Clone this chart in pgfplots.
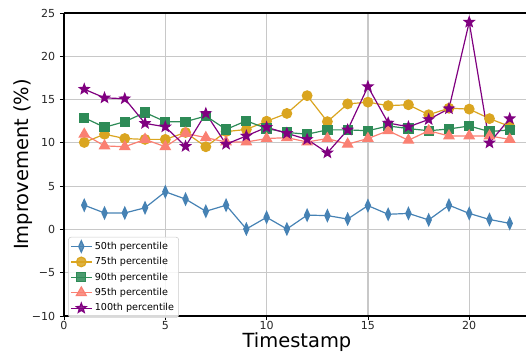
\documentclass[border=0pt]{standalone}
\usepackage{fontspec}
\setmainfont{DejaVu Sans}
\usepackage{pgfplots}
\pgfplotsset{compat=1.18}
\definecolor{cblue}{RGB}{70,130,180}
\definecolor{corange}{RGB}{218,165,32}
\definecolor{cgreen}{RGB}{46,139,87}
\definecolor{csalmon}{RGB}{250,128,114}
\definecolor{cpurple}{RGB}{128,0,128}
\definecolor{gridgray}{RGB}{200,200,200}
\pgfdeclareplotmark{fstar}{%
  \pgfpathmoveto{\pgfpointpolar{90}{\pgfplotmarksize}}%
  \pgfpathlineto{\pgfpointpolar{126}{0.42\pgfplotmarksize}}%
  \pgfpathlineto{\pgfpointpolar{162}{\pgfplotmarksize}}%
  \pgfpathlineto{\pgfpointpolar{198}{0.42\pgfplotmarksize}}%
  \pgfpathlineto{\pgfpointpolar{234}{\pgfplotmarksize}}%
  \pgfpathlineto{\pgfpointpolar{270}{0.42\pgfplotmarksize}}%
  \pgfpathlineto{\pgfpointpolar{306}{\pgfplotmarksize}}%
  \pgfpathlineto{\pgfpointpolar{342}{0.42\pgfplotmarksize}}%
  \pgfpathlineto{\pgfpointpolar{18}{\pgfplotmarksize}}%
  \pgfpathlineto{\pgfpointpolar{54}{0.42\pgfplotmarksize}}%
  \pgfpathclose
  \pgfusepathqfillstroke
}
\begin{document}
\begin{tikzpicture}
\begin{axis}[
  scale only axis,
  width=349.5pt, height=227.25pt,
  xmin=0, xmax=23, ymin=-10, ymax=25,
  xtick={0,5,10,15,20},
  ytick={-10,-5,0,5,10,15,20,25},
  yticklabels={−10,−5,0,5,10,15,20,25},
  axis x line=box, axis y line*=left,
  axis line style={black, line width=0.9pt},
  tick style={black, line width=0.6pt},
  tick align=outside, tick pos=left,
  major tick length=3pt,
  grid=major,
  grid style={gridgray, line width=0.9pt},
  tick label style={font=\fontsize{8.3}{10}\selectfont, text=black!85},
  xticklabel style={inner sep=0.8pt},
  /pgf/number format/assume math mode=true,
  xlabel={Timestamp},
  ylabel={Improvement (\%)},
  every axis x label/.style={at={(axis description cs:0.5,-0.104)}, anchor=base, font=\fontsize{14.6}{16}\selectfont},
  every axis y label/.style={at={(axis description cs:-0.0869,0.5)}, rotate=90, anchor=center, font=\fontsize{14.6}{16}\selectfont},
  legend style={at={(axis description cs:0.009,0.261)}, anchor=north west,
    draw=black!20, rounded corners=2pt, fill=white, fill opacity=0.85, text opacity=1,
    font=\fontsize{7.2}{8.6}\selectfont, inner sep=1.5pt, row sep=0.6pt},
  legend cell align=left,
  legend image code/.code={%
    \draw[mark repeat=2,mark phase=2] plot coordinates {(0cm,0cm) (0.27cm,0cm) (0.54cm,0cm)};},
  every axis plot/.append style={line width=0.9pt},
]
\addplot[cblue, mark=diamond*, mark size=4.3pt, mark options={xscale=0.6}] coordinates {
(1,2.8) (2,1.9) (3,1.9) (4,2.5) (5,4.35) (6,3.5) (7,2.1) (8,2.8) (9,0.05) (10,1.4) (11,0.05)
(12,1.65) (13,1.6) (14,1.2) (15,2.75) (16,1.75) (17,1.85) (18,1.1) (19,2.8) (20,1.85) (21,1.15) (22,0.7)};
\addlegendentry{50th percentile}
\addplot[corange, mark=*, mark size=3.6pt] coordinates {
(1,10.05) (2,11.0) (3,10.5) (4,10.4) (5,10.4) (6,11.2) (7,9.55) (8,11.3) (9,11.55) (10,12.5) (11,13.4)
(12,15.45) (13,12.45) (14,14.5) (15,14.7) (16,14.3) (17,14.4) (18,13.25) (19,14.0) (20,13.9) (21,12.8) (22,11.9)};
\addlegendentry{75th percentile}
\addplot[cgreen, mark=square*, mark size=3.4pt] coordinates {
(1,12.9) (2,11.8) (3,12.45) (4,13.5) (5,12.45) (6,12.45) (7,13.1) (8,11.55) (9,12.55) (10,11.65) (11,11.2)
(12,11.0) (13,11.5) (14,11.5) (15,11.4) (16,11.95) (17,11.65) (18,11.4) (19,11.6) (20,11.95) (21,11.3) (22,11.5)};
\addlegendentry{90th percentile}
\addplot[csalmon, mark=triangle*, mark size=4.3pt] coordinates {
(1,11.0) (2,9.65) (3,9.55) (4,10.4) (5,9.55) (6,11.1) (7,10.6) (8,10.1) (9,10.1) (10,10.5) (11,10.6)
(12,10.1) (13,10.5) (14,9.85) (15,10.5) (16,11.4) (17,10.3) (18,11.4) (19,10.8) (20,10.8) (21,10.8) (22,10.4)};
\addlegendentry{95th percentile}
\addplot[cpurple, mark=fstar, mark size=3.8pt] coordinates {
(1,16.2) (2,15.2) (3,15.1) (4,12.25) (5,11.85) (6,9.6) (7,13.4) (8,9.85) (9,10.8) (10,11.8) (11,11.1)
(12,10.4) (13,8.85) (14,11.5) (15,16.5) (16,12.3) (17,11.85) (18,12.7) (19,13.95) (20,23.95) (21,10.0) (22,12.8)};
\addlegendentry{100th percentile}
\end{axis}
\pgfresetboundingbox
\useasboundingbox (-48pt,-26.25pt) rectangle (346.5pt,237pt);
\end{tikzpicture}
\end{document}
